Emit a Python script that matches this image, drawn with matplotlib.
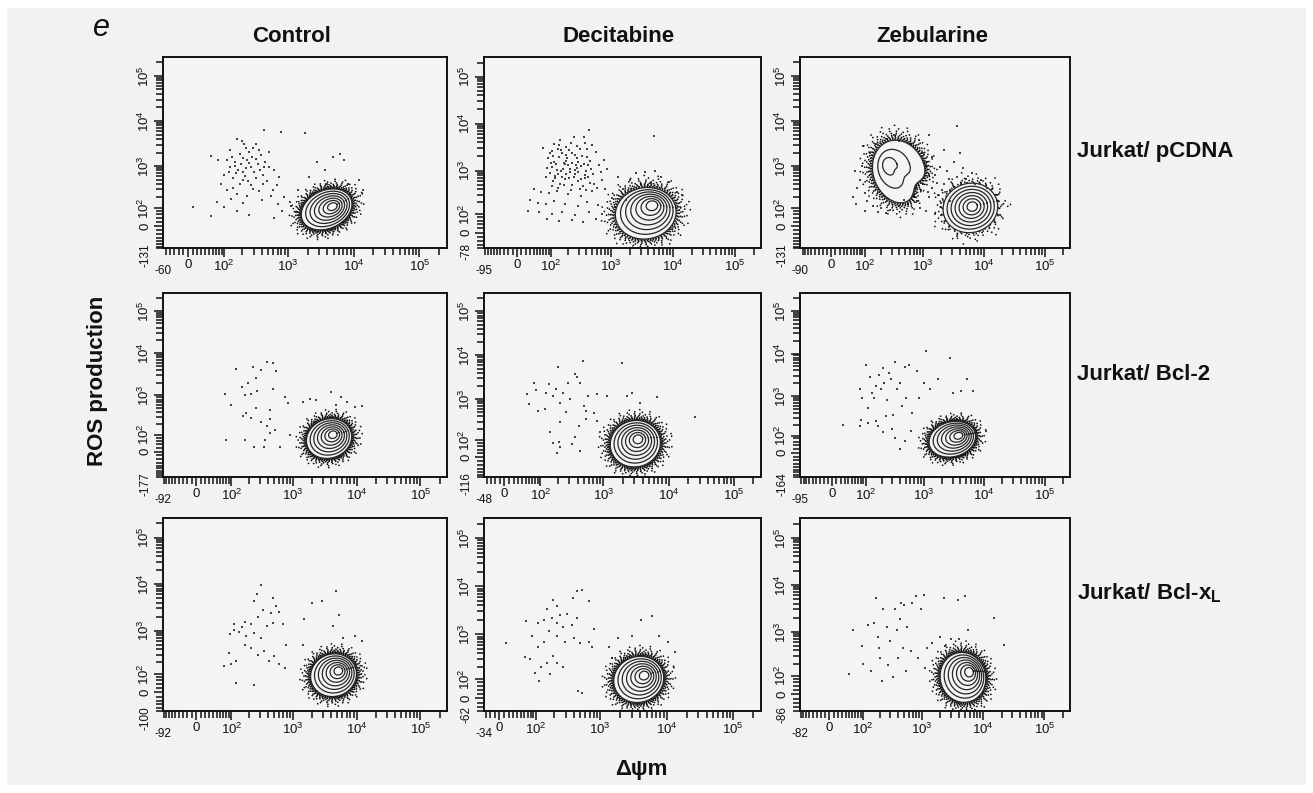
import numpy as np
import matplotlib
matplotlib.use("Agg")
import matplotlib.pyplot as plt
from matplotlib.patches import Rectangle
from matplotlib.ticker import FixedLocator, FixedFormatter, NullFormatter

plt.rcParams['font.family'] = ['Liberation Sans', 'DejaVu Sans']
plt.rcParams['mathtext.fontset'] = 'custom'
plt.rcParams['mathtext.rm'] = 'Liberation Sans'

# ---------------------------------------------------------------- data
panel_letter = "e"
col_titles = ["Control", "Decitabine", "Zebularine"]
row_labels = ["Jurkat/ pCDNA", "Jurkat/ Bcl-2", r"Jurkat/ Bcl-x$_\mathregular{L}$"]
x_axis_label = "Δψm"
y_axis_label = "ROS production"

axis_max = 262144
major_values = [0, 1e2, 1e3, 1e4, 1e5]
major_labels = ["0", r"$\mathregular{10^2}$", r"$\mathregular{10^3}$",
                r"$\mathregular{10^4}$", r"$\mathregular{10^5}$"]
# lower display limits of each panel (row-major order)
x_min_values = [-60, -95, -90, -92, -48, -95, -92, -34, -82]
y_min_values = [-131, -78, -131, -177, -116, -164, -100, -62, -86]

# contoured populations: panel, centre (fluorescence units), half extents
# (decades), shift of the densest core (decades), levels, halo weight, notch, tilt
pop_panel = [0, 1, 2, 2, 3, 4, 5, 6, 7, 8]
pop_cx = [3900, 3630, 400, 6000, 3700, 3100, 2960, 4350, 3800, 4660]
pop_cy = [90, 105, 750, 100, 73, 74, 75, 91, 97, 88]
pop_rx = [0.385, 0.49, 0.44, 0.45, 0.355, 0.385, 0.385, 0.36, 0.376, 0.374]
pop_ry = [0.455, 0.55, 0.70, 0.55, 0.47, 0.53, 0.42, 0.46, 0.48, 0.53]
pop_dx = [0.087, 0.10, -0.15, 0.03, 0.06, 0.04, 0.10, 0.075, 0.08, 0.10]
pop_dy = [0.06, 0.16, 0.12, 0.03, 0.09, 0.10, 0.08, 0.09, 0.08, 0.11]
pop_levels = [7, 7, 3, 7, 7, 7, 7, 7, 7, 7]
pop_halo = [1.0, 0.75, 0.8, 0.3, 1.0, 1.0, 1.0, 1.0, 1.0, 1.0]
pop_notch = [0, 0, 0.3, 0, 0, 0, 0, 0, 0, 0]
pop_tilt = [25, 10, 20, 15, 20, 15, 15, 20, 20, 15]

# sparse events (log10 of delta-psi-m, log10 of ROS)
ctrl_pcdna_events = [
    (2.64, 3.81), (2.90, 3.76), (3.26, 3.73), (2.21, 3.61), (2.33, 3.50), (2.51, 3.50),
    (2.10, 3.36), (2.41, 3.32), (2.72, 3.32), (1.75, 3.22), (1.89, 3.13), (2.05, 3.13),
    (2.18, 3.10), (2.31, 3.17), (2.46, 3.21), (2.59, 3.24), (2.10, 2.99), (2.23, 2.91),
    (2.36, 2.95), (2.49, 2.87), (2.64, 2.99), (2.79, 2.91), (2.00, 2.80), (2.15, 2.73),
    (2.31, 2.69), (2.44, 2.58), (2.62, 2.61), (2.87, 2.76), (1.94, 2.61), (2.05, 2.47),
    (2.21, 2.36), (2.38, 2.32), (2.56, 2.43), (2.74, 2.32), (1.87, 2.17), (2.00, 2.02),
    (2.21, 1.89), (2.41, 1.76), (1.06, 2.02), (1.75, 1.68), (2.92, 1.89), (2.85, 2.10),
    (3.03, 2.17), (3.15, 2.47), (3.33, 2.76), (3.56, 2.91), (3.69, 3.21), (3.79, 3.28),
    (3.85, 3.13), (3.44, 3.10), (3.59, 2.61), (3.92, 2.61), (4.15, 2.47), (4.08, 2.69),
    (2.79, 1.58), (2.28, 3.05), (2.40, 3.08), (2.20, 2.85), (2.55, 3.05), (2.35, 2.78),
    (2.47, 3.40), (2.62, 2.80), (2.95, 2.30), (3.05, 2.05), (3.12, 1.85),
    (2.14, 3.21), (2.26, 3.27), (2.37, 3.13), (2.52, 3.16), (2.66, 3.09), (2.19, 3.01),
    (2.31, 2.86), (2.43, 2.99), (2.57, 2.91), (2.71, 2.97), (2.09, 2.87), (2.26, 2.61),
    (2.39, 2.67), (2.51, 2.73), (2.68, 2.67), (2.36, 3.41), (2.56, 3.36), (2.29, 3.55),
    (2.15, 2.51), (2.47, 2.49), (2.61, 2.21), (2.31, 2.15), (2.12, 2.24), (2.78, 2.46),
    (2.83, 2.58)]
dec_pcdna_events = [
    (2.01, 3.41), (2.12, 3.46), (2.19, 3.37), (2.31, 3.43), (2.42, 3.33), (2.49, 3.45),
    (2.61, 3.29), (1.94, 3.26), (2.06, 3.19), (2.14, 3.29), (2.26, 3.21), (2.36, 3.17),
    (2.44, 3.26), (2.56, 3.14), (2.66, 3.21), (2.02, 3.07), (2.09, 3.13), (2.21, 3.04),
    (2.29, 3.11), (2.41, 3.01), (2.52, 3.09), (2.59, 2.99), (1.97, 2.94), (2.07, 2.89),
    (2.17, 2.99), (2.27, 2.93), (2.39, 2.87), (2.47, 2.96), (2.57, 2.84), (2.71, 2.93),
    (2.04, 2.77), (2.16, 2.71), (2.24, 2.81), (2.36, 2.69), (2.46, 2.77), (2.54, 2.67),
    (2.66, 2.74), (2.16, 3.66), (2.34, 3.59), (2.56, 3.71), (2.69, 3.54), (2.76, 3.39),
    (1.84, 3.49), (2.81, 3.11), (2.86, 2.79), (1.61, 2.61), (1.79, 2.54), (1.96, 2.51),
    (2.11, 2.56), (2.29, 2.49), (2.51, 2.44), (2.69, 2.56), (2.91, 2.61), (1.49, 2.36),
    (1.71, 2.29), (1.89, 2.26), (2.06, 2.34), (2.24, 2.27), (2.46, 2.21), (2.61, 2.31),
    (2.79, 2.24), (3.01, 2.41), (1.41, 2.09), (1.74, 2.06), (2.01, 1.99), (2.19, 2.07),
    (2.41, 1.97), (2.64, 2.06), (2.86, 1.99), (1.91, 1.84), (2.14, 1.76), (2.36, 1.81),
    (2.54, 1.71), (2.76, 1.83), (2.94, 3.04), (3.11, 2.86), (3.19, 2.61), (3.06, 2.19),
    (3.24, 2.36), (3.41, 2.94), (3.54, 2.96), (3.71, 2.99), (3.81, 2.86), (3.64, 2.74),
    (3.94, 2.76), (3.49, 2.71), (3.31, 2.79), (4.06, 2.54), (4.14, 2.46), (3.69, 3.74),
    (2.64, 3.86), (2.22, 3.16), (2.33, 3.03), (2.13, 2.93), (2.43, 3.12), (2.27, 3.33),
    (2.03, 3.31), (2.17, 3.44), (2.28, 3.27), (2.37, 3.38), (2.47, 3.19), (2.53, 3.31),
    (2.63, 3.11), (1.99, 3.16), (2.11, 3.01), (2.24, 3.13), (2.33, 2.97), (2.44, 3.06),
    (2.58, 2.91), (2.68, 3.04), (2.07, 2.83), (2.19, 2.87), (2.31, 2.83), (2.42, 2.93),
    (2.51, 2.81), (2.62, 2.87), (2.73, 2.71), (1.92, 3.06), (1.89, 2.86), (2.01, 2.66),
    (2.12, 2.62), (2.23, 2.68), (2.34, 2.59), (2.49, 2.61), (2.59, 2.58), (2.77, 2.63),
    (2.26, 3.51), (2.44, 3.52), (2.61, 3.46), (1.97, 3.38), (2.83, 2.97), (2.88, 3.22),
    (2.15, 3.55), (2.05, 3.57), (2.39, 3.71), (2.57, 3.58)]
zeb_pcdna_events = [
    (1.95, 3.00), (1.90, 2.70), (2.00, 2.40), (2.05, 2.20), (2.10, 3.30), (2.20, 3.50),
    (2.40, 3.60), (2.60, 3.55), (2.80, 3.50), (3.00, 3.30), (3.05, 3.00), (3.10, 2.80),
    (1.85, 2.50), (2.15, 2.05), (2.30, 2.00), (2.45, 1.95), (2.60, 2.05), (2.75, 2.10),
    (2.90, 2.20), (1.80, 2.90), (1.75, 2.30), (2.00, 1.90), (2.25, 1.85), (3.00, 2.60),
    (3.15, 2.50), (3.25, 2.35), (3.35, 2.60), (3.45, 2.45), (3.20, 2.80), (3.40, 2.90),
    (3.55, 2.75), (3.30, 2.15), (3.10, 2.30), (3.50, 3.10), (3.65, 2.95), (3.80, 2.85),
    (3.95, 2.70), (4.05, 2.50), (3.15, 3.20), (3.35, 3.35), (2.95, 2.00), (3.05, 1.90),
    (3.20, 1.80), (3.45, 2.20), (3.60, 3.30), (3.55, 3.90), (3.10, 3.70),
    (2.97, 2.47), (3.08, 2.41), (3.22, 2.63), (3.31, 2.47), (3.43, 2.71), (3.51, 2.53),
    (3.62, 2.62), (3.71, 2.72), (3.86, 2.61), (3.27, 2.97), (2.85, 2.31), (2.68, 2.21),
    (1.97, 3.45), (2.51, 3.68), (2.93, 3.58), (1.83, 2.12), (2.38, 1.82)]
ctrl_bcl2_events = [
    (1.87, 3.04), (2.00, 2.77), (2.08, 3.63), (2.18, 3.19), (2.23, 3.00), (2.28, 3.30),
    (2.36, 3.68), (2.41, 3.42), (2.49, 3.61), (2.60, 3.78), (2.69, 3.76), (2.73, 3.57),
    (2.68, 3.15), (2.33, 3.04), (2.44, 3.11), (2.26, 2.58), (2.33, 2.47), (2.64, 2.43),
    (2.59, 2.24), (2.72, 2.13), (2.87, 2.96), (2.92, 2.81), (3.16, 2.85), (3.27, 2.92),
    (3.37, 2.89), (3.60, 3.08), (3.75, 2.96), (3.67, 2.77), (3.85, 2.85), (3.97, 2.73),
    (4.08, 2.75), (1.90, 1.79), (2.23, 1.79), (2.38, 1.42), (2.54, 1.42), (2.64, 2.05),
    (2.79, 1.42), (2.95, 2.00), (2.49, 2.36), (2.56, 1.79), (2.20, 2.51), (2.41, 2.70),
    (2.64, 2.66)]
dec_bcl2_events = [
    (1.72, 3.12), (1.78, 2.88), (1.88, 3.38), (1.92, 3.22), (1.95, 2.73), (2.10, 3.15),
    (2.14, 3.35), (2.21, 3.08), (2.26, 3.23), (2.30, 3.73), (2.33, 2.92), (2.38, 3.15),
    (2.43, 2.71), (2.46, 3.38), (2.49, 3.00), (2.56, 3.58), (2.59, 3.50), (2.64, 3.38),
    (2.68, 3.88), (2.70, 2.85), (2.74, 2.73), (2.77, 3.08), (2.90, 3.12), (3.05, 3.08),
    (2.17, 2.23), (2.21, 1.89), (2.31, 1.93), (2.28, 1.36), (2.33, 1.73), (2.51, 1.84),
    (2.56, 2.08), (2.62, 2.38), (2.74, 2.54), (2.64, 1.49), (3.28, 3.83), (3.36, 3.08),
    (3.44, 3.15), (3.56, 2.92), (3.82, 3.04), (4.41, 2.58), (2.90, 2.50), (2.85, 2.69),
    (2.95, 2.23), (2.33, 2.46), (2.08, 2.77)]
zeb_bcl2_events = [
    (1.43, 2.31), (1.89, 2.27), (1.91, 2.42), (1.88, 3.16), (1.92, 2.96), (2.00, 3.73),
    (2.04, 2.72), (2.09, 3.44), (2.12, 3.08), (2.16, 2.96), (2.20, 3.24), (2.24, 3.50),
    (2.28, 3.16), (2.31, 3.65), (2.34, 3.32), (2.39, 2.92), (2.41, 3.55), (2.46, 3.40),
    (2.49, 2.56), (2.52, 3.81), (2.55, 3.16), (2.60, 3.32), (2.63, 2.76), (2.68, 3.69),
    (2.71, 2.96), (2.76, 3.73), (2.81, 2.60), (2.89, 3.60), (2.92, 2.96), (3.00, 3.32),
    (3.04, 4.05), (3.11, 3.16), (3.24, 3.40), (3.43, 3.89), (3.48, 3.08), (3.61, 3.12),
    (3.72, 3.40), (3.82, 3.12), (2.23, 2.27), (2.31, 2.11), (2.36, 2.52), (2.47, 2.19),
    (2.52, 1.92), (2.60, 1.32), (2.68, 1.79), (2.79, 2.15), (2.20, 2.40), (2.04, 2.35)]
ctrl_bclxl_events = [
    (2.49, 3.99), (2.43, 3.79), (2.38, 3.64), (2.68, 3.71), (2.73, 3.53), (2.65, 3.38),
    (2.53, 3.45), (2.45, 3.30), (2.33, 3.15), (2.23, 3.19), (2.18, 3.08), (2.05, 3.15),
    (1.97, 2.92), (2.04, 3.02), (2.13, 2.98), (2.25, 2.89), (2.38, 2.96), (2.49, 2.85),
    (2.60, 3.11), (2.68, 3.17), (2.78, 3.41), (2.85, 3.15), (2.90, 2.70), (1.96, 2.51),
    (1.99, 2.26), (2.08, 2.32), (2.23, 2.70), (2.33, 2.62), (2.45, 2.47), (2.55, 2.55),
    (2.63, 2.32), (2.70, 2.44), (2.78, 2.25), (2.88, 2.17), (1.85, 2.21), (2.08, 1.65),
    (2.38, 1.56), (3.18, 3.26), (3.30, 3.59), (3.45, 3.64), (3.68, 3.86), (3.72, 3.34),
    (3.63, 3.11), (3.78, 2.85), (3.98, 2.89), (4.08, 2.77), (3.16, 2.70)]
dec_bclxl_events = [
    (2.65, 3.90), (2.73, 3.92), (2.59, 3.75), (2.83, 3.70), (2.28, 3.71), (2.34, 3.60),
    (2.18, 3.53), (2.39, 3.41), (2.49, 3.43), (2.26, 3.34), (2.13, 3.30), (2.34, 3.23),
    (2.44, 3.15), (2.57, 3.19), (2.65, 3.34), (2.03, 3.23), (2.21, 3.08), (2.34, 2.96),
    (2.47, 2.85), (2.60, 2.92), (2.70, 2.81), (2.83, 2.85), (2.88, 2.74), (2.13, 2.85),
    (2.03, 2.74), (1.93, 2.96), (1.88, 2.49), (1.79, 2.52), (1.15, 2.81), (1.81, 3.28),
    (1.98, 2.16), (2.05, 1.93), (2.08, 2.29), (2.23, 2.14), (2.34, 2.40), (2.44, 2.29),
    (2.28, 2.55), (2.18, 2.40), (2.67, 1.49), (2.73, 1.36), (3.14, 2.74), (3.18, 2.51),
    (3.27, 2.92), (3.48, 2.96), (3.62, 3.29), (3.78, 3.38), (3.89, 2.96), (4.02, 2.85),
    (4.12, 2.62), (2.91, 3.11)]
zeb_bclxl_events = [
    (1.80, 3.05), (1.69, 2.04), (1.97, 2.70), (1.99, 2.30), (2.10, 3.15), (2.15, 2.13),
    (2.23, 3.72), (2.20, 3.19), (2.26, 2.89), (2.28, 2.66), (2.31, 2.43), (2.34, 1.81),
    (2.36, 3.49), (2.42, 3.11), (2.44, 2.28), (2.47, 2.81), (2.52, 1.97), (2.55, 3.49),
    (2.58, 3.04), (2.60, 2.43), (2.63, 3.27), (2.66, 3.61), (2.68, 2.66), (2.71, 3.57),
    (2.74, 2.13), (2.76, 3.11), (2.82, 2.58), (2.84, 3.61), (2.90, 3.76), (2.93, 2.43),
    (2.98, 3.49), (3.03, 3.78), (3.05, 2.20), (3.08, 2.66), (3.16, 2.77), (3.36, 3.73),
    (3.59, 3.68), (3.70, 3.76), (3.29, 2.89), (3.37, 2.70), (3.48, 2.85), (3.61, 2.86),
    (3.75, 3.04), (4.18, 3.30), (4.34, 2.73)]
panel_events = [ctrl_pcdna_events, dec_pcdna_events, zeb_pcdna_events,
                ctrl_bcl2_events, dec_bcl2_events, zeb_bcl2_events,
                ctrl_bclxl_events, dec_bclxl_events, zeb_bclxl_events]

# ---------------------------------------------------------------- layout
W, H = 1313, 793
BG = "#f2f2f2"
PANEL_BG = "#f4f4f4"
INK = "#111111"
X_LW, Y_LW = 61, 95          # linear widths of the asinh (biexponential-like) axes
col_left = [163, 484, 800]
col_right = [447, 761, 1070]
row_top = [57, 293, 518]
row_bottom = [248, 477, 711]

fig = plt.figure(figsize=(W / 100, H / 100), dpi=100)
fig.patch.set_facecolor("white")
fig.patches.append(Rectangle((7 / W, 1 - 785 / H), (1306 - 7) / W, (785 - 8) / H,
                             transform=fig.transFigure, facecolor=BG,
                             edgecolor="none", zorder=-10))


def fx(px):
    return px / W


def fy(py):
    return 1 - py / H


def tr_fwd(tr, vals):
    return tr.transform(np.asarray(vals, float).reshape(-1, 1)).ravel()


def tr_inv(tr, vals):
    return tr.inverted().transform(np.asarray(vals, float).reshape(-1, 1)).ravel()


def shape_offsets(Wp, Hp, theta, notch, n=300):
    th = np.radians(theta)
    c2, s2 = np.cos(th) ** 2, np.sin(th) ** 2
    a = np.sqrt(max((Wp ** 2 * c2 - Hp ** 2 * s2) / (c2 - s2), 1e-6))
    b = np.sqrt(max((Hp ** 2 * c2 - Wp ** 2 * s2) / (c2 - s2), 1e-6))
    t = np.linspace(0, 2 * np.pi, n)
    px, py = a * np.cos(t), b * np.sin(t)
    X = px * np.cos(th) - py * np.sin(th)
    Y = px * np.sin(th) + py * np.cos(th)
    if notch:
        ang = np.arctan2(Y, X)
        d = np.angle(np.exp(1j * (ang - np.radians(-40))))
        fac = 1 - notch * np.exp(-(d / 0.45) ** 2)
        X, Y = X * fac, Y * fac
    return X, Y


TICK_MAJOR, TICK_MINOR, TICK_PAD = 6.5, 5.0, 1.5
axes = []
for idx in range(9):
    r, c = divmod(idx, 3)
    l, rr, t, b = col_left[c], col_right[c], row_top[r], row_bottom[r]
    ax = fig.add_axes([fx(l), fy(b), (rr - l) / W, (b - t) / H])
    axes.append(ax)
    ax.set_facecolor(PANEL_BG)
    ax.set_xscale("asinh", linear_width=X_LW)
    ax.set_yscale("asinh", linear_width=Y_LW)
    xmin, ymin = x_min_values[idx], y_min_values[idx]
    ax.set_xlim(xmin, axis_max)
    ax.set_ylim(ymin, axis_max)

    # ticks
    ax.xaxis.set_major_locator(FixedLocator(major_values))
    ax.xaxis.set_major_formatter(FixedFormatter(major_labels))
    ax.yaxis.set_major_locator(FixedLocator(major_values))
    ax.yaxis.set_major_formatter(FixedFormatter(major_labels))
    log_minor = [m * 10 ** k for k in range(2, 6) for m in range(2, 10) if m * 10 ** k < axis_max]
    x_lin_minor = [v for v in range(-90, 100, 10) if v > xmin and v != 0]
    y_lin_minor = [ymin] + [v for v in range(-180, 100, 20) if v > ymin + 8 and v != 0]
    ax.xaxis.set_minor_locator(FixedLocator(x_lin_minor + log_minor))
    ax.yaxis.set_minor_locator(FixedLocator(y_lin_minor + log_minor))
    ax.xaxis.set_minor_formatter(NullFormatter())
    ax.yaxis.set_minor_formatter(NullFormatter())
    ax.tick_params(which="both", direction="out", color=INK, width=1.1,
                   labelsize=9.5, labelcolor=INK)
    ax.tick_params(which="major", length=TICK_MAJOR)
    ax.tick_params(which="minor", length=TICK_MINOR)
    ax.tick_params(axis="x", pad=1.2)
    ax.tick_params(axis="y", pad=TICK_PAD, labelrotation=90)
    for lab in ax.get_yticklabels():
        lab.set_va("center")
    for sp in ax.spines.values():
        sp.set_linewidth(1.4)
        sp.set_color(INK)
    # lower-limit labels of both axes
    ax.annotate(str(xmin), xy=(xmin, 0), xycoords=("data", "axes fraction"),
                xytext=(0, -12.5), textcoords="offset points", ha="center", va="top",
                fontsize=8.5, color=INK)
    ax.annotate(str(ymin), xy=(0, ymin), xycoords=("axes fraction", "data"),
                xytext=(-(TICK_MAJOR + TICK_PAD), 3.5), textcoords="offset points",
                ha="right", va="top", rotation=90, fontsize=8.5, color=INK)

    # sparse events
    ev = np.array(panel_events[idx])
    ax.scatter(10 ** ev[:, 0], 10 ** ev[:, 1], s=3.2, marker="s", c="#454545",
               linewidths=0, zorder=2)

# contoured populations
halo_scales = [1.03, 1.07, 1.11, 1.16, 1.22, 1.29, 1.37, 1.47]
halo_gaps = [1.1, 1.25, 1.45, 1.8, 2.3, 3.1, 4.3, 6.0]
for k in range(len(pop_panel)):
    ax = axes[pop_panel[k]]
    tx, ty = ax.xaxis.get_transform(), ax.yaxis.get_transform()
    udx = tr_fwd(tx, [1e4])[0] - tr_fwd(tx, [1e3])[0]
    udy = tr_fwd(ty, [1e4])[0] - tr_fwd(ty, [1e3])[0]
    bb = ax.get_position()
    xl, yl = ax.get_xlim(), ax.get_ylim()
    ppdx = bb.width * W / ((tr_fwd(tx, [xl[1]])[0] - tr_fwd(tx, [xl[0]])[0]) / udx)
    ppdy = bb.height * H / ((tr_fwd(ty, [yl[1]])[0] - tr_fwd(ty, [yl[0]])[0]) / udy)
    cxt = tr_fwd(tx, [pop_cx[k]])[0]
    cyt = tr_fwd(ty, [pop_cy[k]])[0]
    Wp, Hp = pop_rx[k] * ppdx, pop_ry[k] * ppdy
    tilt = pop_tilt[k]

    def to_data(ox, oy, cx0=cxt, cy0=cyt):
        return (tr_inv(tx, cx0 + ox / ppdx * udx), tr_inv(ty, cy0 + oy / ppdy * udy))

    # halo of dense single events around the lowest contour
    w = pop_halo[k]
    for j, (s, g) in enumerate(zip(halo_scales, halo_gaps)):
        X, Y = shape_offsets(Wp * s, Hp * s, tilt, pop_notch[k])
        xd, yd = to_data(X, Y)
        ax.plot(xd, yd, color="#0d0d0d", lw=1.25,
                linestyle=(j * 0.83, (0.05, g / w)), dash_capstyle="round",
                zorder=3)

    n = pop_levels[k]
    fracs = np.linspace(1.0, 0.19, n) if n > 3 else np.array([1.0, 0.62, 0.28])
    fmin = fracs[-1]
    for f in fracs:
        sh = (1 - f) / (1 - fmin)
        ox = pop_dx[k] * ppdx * sh
        oy = pop_dy[k] * ppdy * sh
        X, Y = shape_offsets(Wp * f, Hp * f, tilt, pop_notch[k])
        xd, yd = to_data(X + ox, Y + oy)
        ax.plot(xd, yd, color="#262626", lw=0.9, zorder=4)

# ---------------------------------------------------------------- text
title_kw = dict(fontsize=16, fontweight="bold", color=INK)
fig.text(fx(101), fy(28), panel_letter, fontsize=22, style="italic",
         ha="center", va="center", color=INK)
for c, name in enumerate(col_titles):
    fig.text(fx([292, 619, 932][c]), fy(37), name, ha="center", va="center", **title_kw)
for r, name in enumerate(row_labels):
    fig.text(fx(1077), fy([152, 375, 593][r]), name, ha="left", va="center", **title_kw)
fig.text(fx(98), fy(381), y_axis_label, rotation=90, ha="center", va="center", **title_kw)
fig.text(fx(641), fy(769), x_axis_label, ha="center", va="center", **title_kw)

fig.savefig("out.png", dpi=100, facecolor=fig.get_facecolor())
